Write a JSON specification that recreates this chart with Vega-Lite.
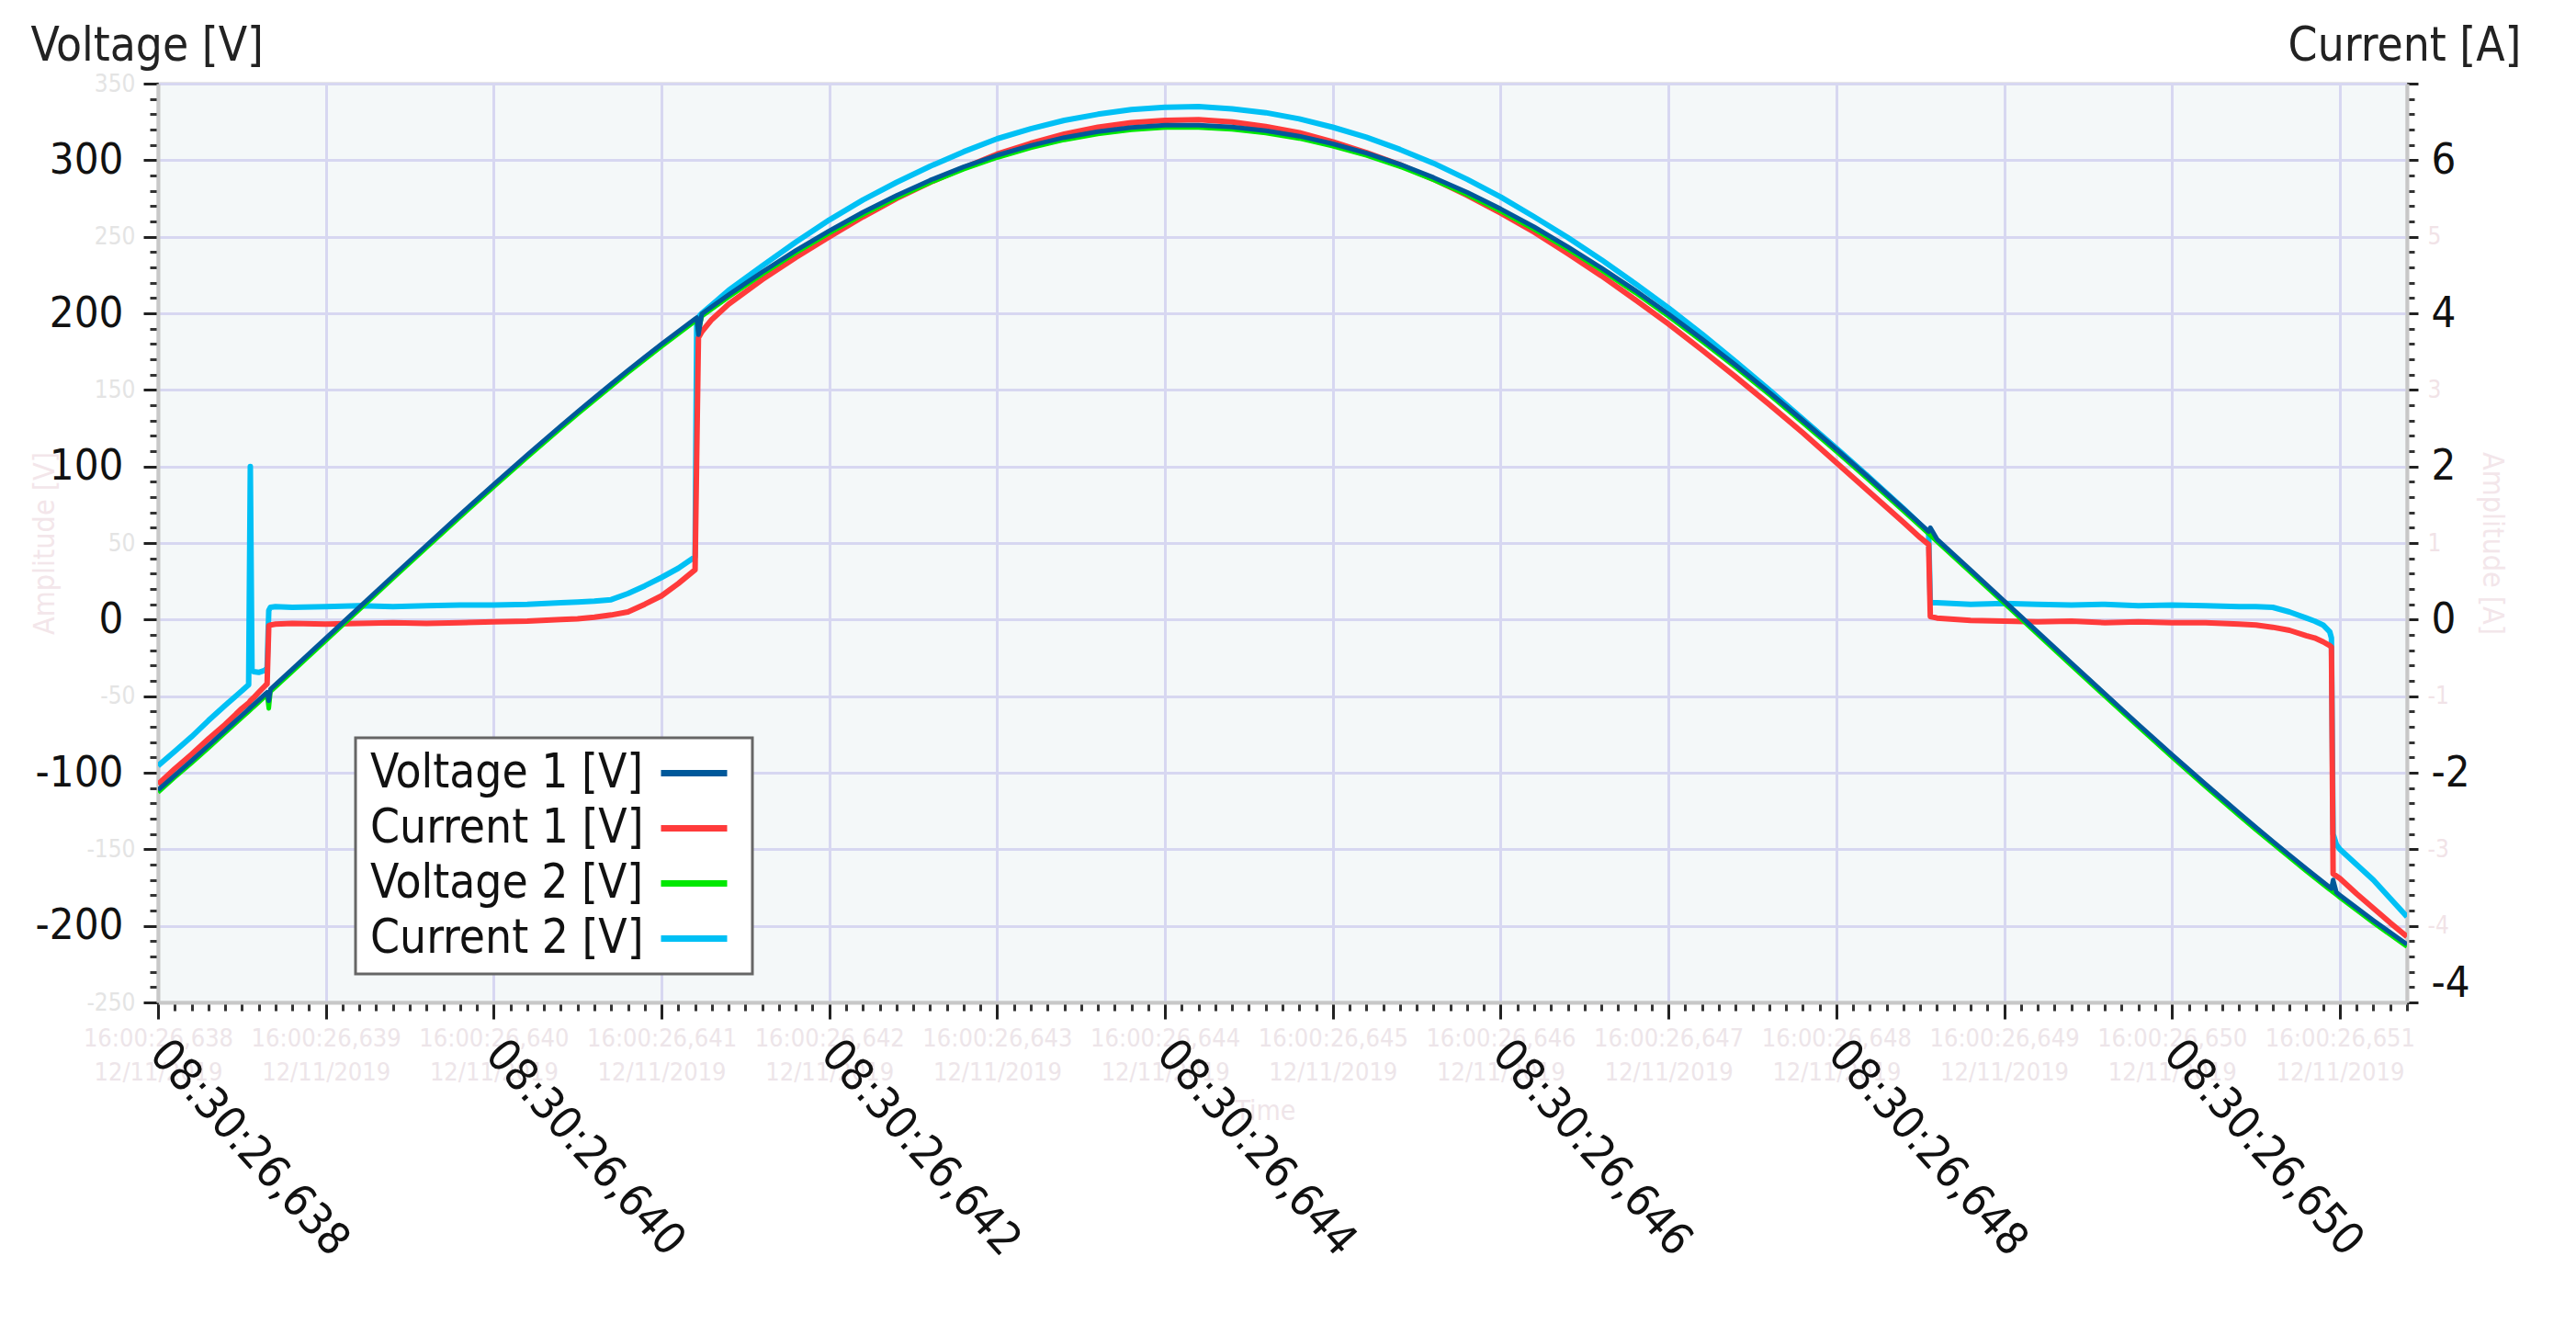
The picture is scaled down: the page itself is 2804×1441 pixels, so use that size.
{
  "$schema": "https://vega.github.io/schema/vega-lite/v6.json",
  "width": 2448,
  "height": 1000,
  "autosize": {"type": "none"},
  "padding": {"left": 172, "top": 91, "right": 184, "bottom": 350},
  "background": "white",
  "config": {
    "view": {"fill": "#f4f8f9", "stroke": "#d2d2d2", "strokeWidth": 3},
    "font": "DejaVu Sans Condensed",
    "legend": {"strokeWidth": 3}
  },
  "data": {"values": [
    {"t": 638.0, "v1": -111.3, "v2": -112.8, "c1": -2.15, "c2": -1.91},
    {"t": 638.1, "v1": -101.7, "v2": -103.0, "c1": -1.95, "c2": -1.72},
    {"t": 638.2, "v1": -92.1, "v2": -93.6, "c1": -1.76, "c2": -1.53},
    {"t": 638.3, "v1": -82.3, "v2": -83.9, "c1": -1.56, "c2": -1.32},
    {"t": 638.4, "v1": -72.4, "v2": -73.8, "c1": -1.37, "c2": -1.12},
    {"t": 638.5, "v1": -62.5, "v2": -64.0, "c1": -1.16, "c2": -0.93},
    {"t": 638.54, "v1": -58.5, "v2": -60.0, "c1": -1.09, "c2": -0.85},
    {"t": 638.55, "v1": -57.5, "v2": -59.0, "c1": -1.06, "c2": 2.0},
    {"t": 638.56, "v1": -56.5, "v2": -58.0, "c1": -1.04, "c2": -0.66},
    {"t": 638.57, "v1": -55.5, "v2": -57.0, "c1": -1.02, "c2": -0.68},
    {"t": 638.6, "v1": -52.5, "v2": -54.0, "c1": -0.95, "c2": -0.69},
    {"t": 638.64, "v1": -48.5, "v2": -50.0, "c1": -0.86, "c2": -0.66},
    {"t": 638.65, "v1": -47.5, "v2": -49.0, "c1": -0.84, "c2": -0.62},
    {"t": 638.66, "v1": -53.0, "v2": -58.0, "c1": -0.08, "c2": 0.12},
    {"t": 638.67, "v1": -45.5, "v2": -47.0, "c1": -0.07, "c2": 0.16},
    {"t": 638.7, "v1": -42.5, "v2": -44.0, "c1": -0.06, "c2": 0.17},
    {"t": 638.8, "v1": -32.4, "v2": -33.9, "c1": -0.05, "c2": 0.16},
    {"t": 639.0, "v1": -12.2, "v2": -13.7, "c1": -0.06, "c2": 0.17},
    {"t": 639.2, "v1": 8.1, "v2": 6.6, "c1": -0.05, "c2": 0.18},
    {"t": 639.4, "v1": 28.4, "v2": 26.9, "c1": -0.04, "c2": 0.17},
    {"t": 639.6, "v1": 48.5, "v2": 47.0, "c1": -0.05, "c2": 0.18},
    {"t": 639.8, "v1": 68.5, "v2": 67.0, "c1": -0.04, "c2": 0.19},
    {"t": 640.0, "v1": 88.2, "v2": 86.7, "c1": -0.03, "c2": 0.19},
    {"t": 640.2, "v1": 107.5, "v2": 106.0, "c1": -0.02, "c2": 0.2},
    {"t": 640.4, "v1": 126.4, "v2": 124.9, "c1": 0.0, "c2": 0.22},
    {"t": 640.5, "v1": 135.7, "v2": 134.2, "c1": 0.01, "c2": 0.23},
    {"t": 640.6, "v1": 144.8, "v2": 143.3, "c1": 0.03, "c2": 0.24},
    {"t": 640.7, "v1": 153.8, "v2": 152.3, "c1": 0.06, "c2": 0.26},
    {"t": 640.8, "v1": 162.7, "v2": 161.2, "c1": 0.1, "c2": 0.34},
    {"t": 640.9, "v1": 171.4, "v2": 169.9, "c1": 0.2, "c2": 0.44},
    {"t": 641.0, "v1": 179.9, "v2": 178.4, "c1": 0.31, "c2": 0.55},
    {"t": 641.1, "v1": 188.2, "v2": 186.7, "c1": 0.47, "c2": 0.67},
    {"t": 641.2, "v1": 196.4, "v2": 194.9, "c1": 0.65, "c2": 0.82},
    {"t": 641.21, "v1": 197.2, "v2": 195.7, "c1": 2.2, "c2": 3.92},
    {"t": 641.22, "v1": 186.0, "v2": 188.0, "c1": 3.68, "c2": 3.95},
    {"t": 641.24, "v1": 199.6, "v2": 198.1, "c1": 3.76, "c2": 4.0},
    {"t": 641.3, "v1": 204.3, "v2": 202.8, "c1": 3.92, "c2": 4.11},
    {"t": 641.4, "v1": 212.1, "v2": 210.6, "c1": 4.12, "c2": 4.3},
    {"t": 641.6, "v1": 227.0, "v2": 225.5, "c1": 4.44, "c2": 4.62},
    {"t": 641.8, "v1": 241.0, "v2": 239.5, "c1": 4.73, "c2": 4.93},
    {"t": 642.0, "v1": 253.9, "v2": 252.4, "c1": 5.0, "c2": 5.22},
    {"t": 642.2, "v1": 266.0, "v2": 264.5, "c1": 5.26, "c2": 5.48},
    {"t": 642.4, "v1": 277.0, "v2": 275.5, "c1": 5.5, "c2": 5.71},
    {"t": 642.6, "v1": 286.9, "v2": 285.4, "c1": 5.71, "c2": 5.92},
    {"t": 642.8, "v1": 295.6, "v2": 294.1, "c1": 5.9, "c2": 6.11},
    {"t": 643.0, "v1": 303.2, "v2": 301.7, "c1": 6.08, "c2": 6.28},
    {"t": 643.2, "v1": 309.6, "v2": 308.1, "c1": 6.22, "c2": 6.41},
    {"t": 643.4, "v1": 314.8, "v2": 313.3, "c1": 6.34, "c2": 6.52},
    {"t": 643.6, "v1": 318.7, "v2": 317.2, "c1": 6.43, "c2": 6.6},
    {"t": 643.8, "v1": 321.4, "v2": 319.9, "c1": 6.49, "c2": 6.66},
    {"t": 644.0, "v1": 322.8, "v2": 321.3, "c1": 6.52, "c2": 6.69},
    {"t": 644.2, "v1": 322.9, "v2": 321.4, "c1": 6.53, "c2": 6.7},
    {"t": 644.4, "v1": 321.7, "v2": 320.2, "c1": 6.5, "c2": 6.67},
    {"t": 644.6, "v1": 319.3, "v2": 317.8, "c1": 6.44, "c2": 6.62},
    {"t": 644.8, "v1": 315.7, "v2": 314.2, "c1": 6.36, "c2": 6.54},
    {"t": 645.0, "v1": 310.7, "v2": 309.2, "c1": 6.24, "c2": 6.43},
    {"t": 645.2, "v1": 304.6, "v2": 303.1, "c1": 6.1, "c2": 6.3},
    {"t": 645.4, "v1": 297.3, "v2": 295.8, "c1": 5.94, "c2": 6.14},
    {"t": 645.6, "v1": 288.7, "v2": 287.2, "c1": 5.75, "c2": 5.96},
    {"t": 645.8, "v1": 279.0, "v2": 277.5, "c1": 5.54, "c2": 5.75},
    {"t": 646.0, "v1": 268.2, "v2": 266.7, "c1": 5.31, "c2": 5.52},
    {"t": 646.2, "v1": 256.4, "v2": 254.9, "c1": 5.06, "c2": 5.26},
    {"t": 646.4, "v1": 243.4, "v2": 241.9, "c1": 4.78, "c2": 4.99},
    {"t": 646.6, "v1": 229.7, "v2": 228.2, "c1": 4.49, "c2": 4.7},
    {"t": 646.8, "v1": 215.1, "v2": 213.6, "c1": 4.18, "c2": 4.39},
    {"t": 647.0, "v1": 199.6, "v2": 198.1, "c1": 3.86, "c2": 4.07},
    {"t": 647.2, "v1": 183.2, "v2": 181.7, "c1": 3.52, "c2": 3.73},
    {"t": 647.4, "v1": 166.2, "v2": 164.7, "c1": 3.17, "c2": 3.37},
    {"t": 647.6, "v1": 148.5, "v2": 147.0, "c1": 2.81, "c2": 3.0},
    {"t": 647.8, "v1": 130.1, "v2": 128.6, "c1": 2.44, "c2": 2.62},
    {"t": 648.0, "v1": 111.3, "v2": 109.8, "c1": 2.05, "c2": 2.24},
    {"t": 648.2, "v1": 92.1, "v2": 90.6, "c1": 1.66, "c2": 1.85},
    {"t": 648.4, "v1": 72.4, "v2": 70.9, "c1": 1.27, "c2": 1.45},
    {"t": 648.5, "v1": 62.5, "v2": 61.0, "c1": 1.07, "c2": 1.24},
    {"t": 648.55, "v1": 57.5, "v2": 56.0, "c1": 0.98, "c2": 1.14},
    {"t": 648.56, "v1": 60.0, "v2": 55.0, "c1": 0.04, "c2": 0.22},
    {"t": 648.6, "v1": 52.5, "v2": 51.0, "c1": 0.02, "c2": 0.22},
    {"t": 648.8, "v1": 32.4, "v2": 30.9, "c1": -0.01, "c2": 0.2},
    {"t": 649.0, "v1": 12.2, "v2": 10.7, "c1": -0.02, "c2": 0.21},
    {"t": 649.2, "v1": -8.1, "v2": -9.6, "c1": -0.03, "c2": 0.2},
    {"t": 649.4, "v1": -28.4, "v2": -29.9, "c1": -0.02, "c2": 0.19},
    {"t": 649.6, "v1": -48.5, "v2": -50.0, "c1": -0.04, "c2": 0.2},
    {"t": 649.8, "v1": -68.5, "v2": -70.0, "c1": -0.03, "c2": 0.18},
    {"t": 650.0, "v1": -88.2, "v2": -89.7, "c1": -0.04, "c2": 0.19},
    {"t": 650.2, "v1": -107.5, "v2": -109.0, "c1": -0.04, "c2": 0.18},
    {"t": 650.4, "v1": -126.4, "v2": -127.9, "c1": -0.06, "c2": 0.17},
    {"t": 650.5, "v1": -135.7, "v2": -137.2, "c1": -0.07, "c2": 0.17},
    {"t": 650.6, "v1": -144.8, "v2": -146.3, "c1": -0.1, "c2": 0.16},
    {"t": 650.7, "v1": -153.8, "v2": -155.3, "c1": -0.14, "c2": 0.1},
    {"t": 650.8, "v1": -162.7, "v2": -164.2, "c1": -0.21, "c2": 0.02},
    {"t": 650.85, "v1": -167.0, "v2": -168.5, "c1": -0.24, "c2": -0.02},
    {"t": 650.9, "v1": -171.4, "v2": -172.9, "c1": -0.29, "c2": -0.07},
    {"t": 650.94, "v1": -174.8, "v2": -176.3, "c1": -0.34, "c2": -0.16},
    {"t": 650.95, "v1": -175.6, "v2": -177.1, "c1": -0.36, "c2": -0.24},
    {"t": 650.96, "v1": -170.0, "v2": -178.0, "c1": -3.32, "c2": -2.8},
    {"t": 650.98, "v1": -178.2, "v2": -179.7, "c1": -3.35, "c2": -2.94},
    {"t": 651.0, "v1": -179.9, "v2": -181.4, "c1": -3.38, "c2": -3.0},
    {"t": 651.1, "v1": -188.2, "v2": -189.7, "c1": -3.58, "c2": -3.2},
    {"t": 651.2, "v1": -196.4, "v2": -197.9, "c1": -3.77, "c2": -3.4},
    {"t": 651.3, "v1": -204.3, "v2": -205.8, "c1": -3.96, "c2": -3.64},
    {"t": 651.4, "v1": -212.1, "v2": -213.6, "c1": -4.14, "c2": -3.88}
  ]},
  "encoding": {
    "color": {
      "field": "series", "type": "nominal",
      "scale": {"domain": ["v1", "c1", "v2", "c2"], "range": ["#00589a", "#ff3b3b", "#00e800", "#00c0f5"]},
      "legend": {
        "orient": "none", "legendX": 215, "legendY": 712,
        "title": null, "direction": "vertical",
        "symbolType": "M 294,0 L 366,0", "symbolSize": 4, "symbolStrokeWidth": 7,
        "labelFont": "DejaVu Sans Condensed", "labelFontSize": 51, "labelColor": "#111",
        "labelOffset": -48, "labelLimit": 0,
        "padding": 13, "rowPadding": 8,
        "strokeColor": "#666666", "fillColor": "white",
        "labelExpr": "datum.label === 'v1' ? 'Voltage 1 [V]' : datum.label === 'c1' ? 'Current 1 [V]' : datum.label === 'v2' ? 'Voltage 2 [V]' : 'Current 2 [V]'"
      }
    }
  },
  "layer": [
    {
      "encoding": {
        "x": {
          "field": "t", "type": "quantitative",
          "scale": {"domain": [638, 651.4], "nice": false, "zero": false},
          "axis": {
            "orient": "bottom", "tickCount": 134, "grid": false, "domain": false,
            "tickSize": 9, "tickWidth": 3, "tickColor": "#333333",
            "labelExpr": "abs(datum.value - round(datum.value)) < 0.01 ? ['16:00:26,' + round(datum.value), '12/11/2019'] : ''",
            "labelFont": "Liberation Sans Narrow, DejaVu Sans Condensed", "labelFontSize": 27,
            "labelColor": "#ede5e9", "labelLineHeight": 37, "labelBaseline": "top", "labelPadding": 17,
            "labelOverlap": false, "labelFlush": false, "labelBound": false, "labelLimit": 0,
            "title": "Time", "titleColor": "#efe5e9", "titleFont": "Liberation Sans Narrow, DejaVu Sans Condensed",
            "titleFontSize": 30, "titleFontWeight": "normal", "titleX": 1205, "titleY": 118, "titleBaseline": "middle"
          }
        }
      },
      "layer": [
        {
          "transform": [{"fold": ["c2"], "as": ["series", "val"]}],
          "mark": {"type": "line", "strokeWidth": 6, "clip": true, "strokeJoin": "round"},
          "encoding": {
            "y": {
              "field": "val", "type": "quantitative",
              "scale": {"domain": [-5, 7], "nice": false, "zero": false},
              "axis": {
                "orient": "right", "tickCount": 60, "grid": false, "domain": false,
                "tickSize": 8, "tickWidth": 3, "tickColor": "#333333",
                "labelExpr": "abs(datum.value - round(datum.value)) < 0.01 && round(datum.value) > -5 && round(datum.value) < 7 && (abs(round(datum.value)) % 2 === 1 || round(datum.value) === -4) ? (datum.value < 0 ? '-' : '') + abs(round(datum.value)) : ''",
                "labelFont": "Liberation Sans Narrow, DejaVu Sans Condensed", "labelFontSize": 26,
                "labelColor": "#f1e3e7", "labelPadding": 14, "labelOverlap": false, "labelAlign": "left",
                "title": "Amplitude [A]", "titleColor": "#f3e6ea", "titleFont": "Liberation Sans Narrow, DejaVu Sans Condensed",
                "titleFontSize": 32, "titleFontWeight": "normal", "titleX": 75, "titleY": 500, "titleAngle": 90
              }
            }
          }
        },
        {
          "transform": [{"fold": ["c1"], "as": ["series", "val"]}],
          "mark": {"type": "line", "strokeWidth": 6, "clip": true, "strokeJoin": "round"},
          "encoding": {
            "y": {
              "field": "val", "type": "quantitative",
              "scale": {"domain": [-5, 7], "nice": false, "zero": false},
              "axis": {
                "orient": "right",
                "values": [7, 6, 5, 4, 3, 2, 1, 0, -1, -2, -3, -4, -4.75, -5],
                "grid": false, "domain": true, "domainColor": "#c8c8c8", "domainWidth": 4,
                "tickSize": 12, "tickWidth": 3, "tickColor": "#222222",
                "tickOpacity": {"condition": {"test": "datum.value === -4.75", "value": 0}, "value": 1},
                "labelExpr": "datum.value === -4.75 ? '-4' : (datum.value % 2 === 0 && datum.value > -3 && datum.value < 7 ? (datum.value < 0 ? '-' : '') + abs(datum.value) : '')",
                "labelFont": "DejaVu Sans Condensed", "labelFontSize": 47, "labelColor": "#111111",
                "labelPadding": 14, "labelAlign": "left", "labelOverlap": false,
                "title": "Current [A]", "titleAngle": 0, "titleAlign": "right", "titleBaseline": "alphabetic",
                "titleX": 124, "titleY": -26, "titleFont": "DejaVu Sans Condensed", "titleFontSize": 51,
                "titleFontWeight": "normal", "titleColor": "#222222"
              }
            }
          }
        }
      ],
      "resolve": {"axis": {"y": "independent"}}
    },
    {
      "encoding": {
        "x": {
          "field": "t", "type": "quantitative",
          "scale": {"domain": [638, 651.4], "nice": false, "zero": false},
          "axis": {
            "orient": "bottom",
            "values": [638, 639, 640, 641, 642, 643, 644, 645, 646, 647, 648, 649, 650, 651],
            "grid": true, "gridColor": "#d7d7f1", "gridWidth": 3,
            "domain": true, "domainColor": "#c8c8c8", "domainWidth": 4,
            "tickSize": 18, "tickWidth": 3, "tickColor": "#222222",
            "labelExpr": "datum.value % 2 === 0 ? '08:30:26,' + datum.value : ''",
            "labelAngle": 48, "labelAlign": "left", "labelBaseline": "middle",
            "labelFont": "DejaVu Sans Condensed", "labelFontSize": 49, "labelColor": "#111111",
            "labelPadding": 30, "labelOverlap": false, "labelFlush": false, "labelLimit": 0,
            "title": null
          }
        }
      },
      "layer": [
        {
          "transform": [{"fold": ["v2"], "as": ["series", "val"]}],
          "mark": {"type": "line", "strokeWidth": 5, "clip": true, "strokeJoin": "round"},
          "encoding": {
            "y": {
              "field": "val", "type": "quantitative",
              "scale": {"domain": [-250, 350], "nice": false, "zero": false},
              "axis": {
                "orient": "left", "tickCount": 60, "grid": false, "domain": false,
                "tickSize": 9, "tickWidth": 3, "tickColor": "#333333",
                "labelExpr": "abs(round(datum.value) % 100) === 50 ? (datum.value < 0 ? '-' : '') + abs(round(datum.value)) : ''",
                "labelFont": "Liberation Sans Narrow, DejaVu Sans Condensed", "labelFontSize": 26,
                "labelColor": "#e4e4e4", "labelPadding": 16, "labelOverlap": false,
                "title": "Amplitude [V]", "titleColor": "#f3e6ea", "titleFont": "Liberation Sans Narrow, DejaVu Sans Condensed",
                "titleFontSize": 32, "titleFontWeight": "normal", "titleX": -107, "titleY": 500
              }
            }
          }
        },
        {
          "transform": [{"fold": ["v1"], "as": ["series", "val"]}],
          "mark": {"type": "line", "strokeWidth": 5, "clip": true, "strokeJoin": "round"},
          "encoding": {
            "y": {
              "field": "val", "type": "quantitative",
              "scale": {"domain": [-250, 350], "nice": false, "zero": false},
              "axis": {
                "orient": "left",
                "values": [-250, -200, -150, -100, -50, 0, 50, 100, 150, 200, 250, 300, 350],
                "grid": true, "gridColor": "#d7d7f1", "gridWidth": 3,
                "domain": true, "domainColor": "#c8c8c8", "domainWidth": 4,
                "tickSize": 16, "tickWidth": 3, "tickColor": "#222222",
                "labelExpr": "datum.value % 100 === 0 && datum.value < 350 && datum.value > -250 ? (datum.value < 0 ? '-' : '') + abs(datum.value) : ''",
                "labelFont": "DejaVu Sans Condensed", "labelFontSize": 47, "labelColor": "#111111",
                "labelPadding": 22, "labelOverlap": false,
                "title": "Voltage [V]", "titleAngle": 0, "titleAlign": "left", "titleBaseline": "alphabetic",
                "titleX": -139, "titleY": -26, "titleFont": "DejaVu Sans Condensed", "titleFontSize": 51,
                "titleFontWeight": "normal", "titleColor": "#222222"
              }
            }
          }
        }
      ],
      "resolve": {"axis": {"y": "independent"}}
    }
  ],
  "resolve": {"scale": {"y": "independent"}, "axis": {"x": "independent"}}
}
